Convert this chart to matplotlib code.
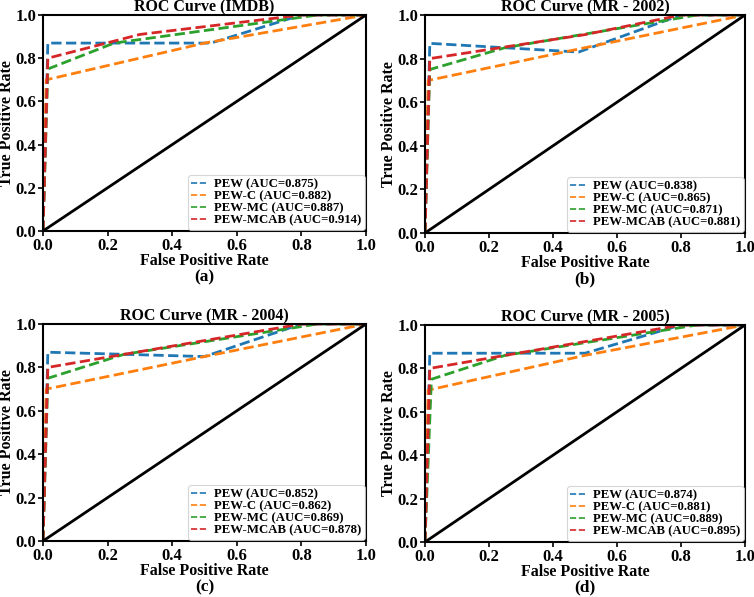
import matplotlib

matplotlib.use("Agg")
import matplotlib.pyplot as plt

# ROC points, per dataset and model
TITLES = ["ROC Curve (IMDB)", "ROC Curve (MR - 2002)",
          "ROC Curve (MR - 2004)", "ROC Curve (MR - 2005)"]
CAPTIONS = ["(a)", "(b)", "(c)", "(d)"]
MODELS = ["PEW", "PEW-C", "PEW-MC", "PEW-MCAB"]
COLORS = ["#1f77b4", "#ff7f0e", "#2ca02c", "#d62728"]

AUC = [
    [0.875, 0.882, 0.887, 0.914],
    [0.838, 0.865, 0.871, 0.881],
    [0.852, 0.862, 0.869, 0.878],
    [0.874, 0.881, 0.889, 0.895],
]

FPR = [
    [[0, 0.015, 0.52, 0.80, 1], [0, 0.01, 0.50, 1], [0, 0.015, 0.22, 0.85, 1], [0, 0.015, 0.30, 0.80, 1]],
    [[0, 0.015, 0.48, 0.80, 1], [0, 0.01, 0.50, 1], [0, 0.015, 0.25, 0.85, 1], [0, 0.015, 0.50, 0.80, 1]],
    [[0, 0.015, 0.50, 0.80, 1], [0, 0.01, 0.50, 1], [0, 0.015, 0.25, 0.85, 1], [0, 0.015, 0.25, 0.80, 1]],
    [[0, 0.015, 0.50, 0.80, 1], [0, 0.01, 0.50, 1], [0, 0.02, 0.25, 0.85, 1], [0, 0.015, 0.25, 0.80, 1]],
]
TPR = [
    [[0, 0.87, 0.87, 1.0, 1], [0, 0.70, 0.87, 1], [0, 0.75, 0.87, 1.0, 1], [0, 0.80, 0.91, 1.0, 1]],
    [[0, 0.87, 0.83, 1.0, 1], [0, 0.70, 0.85, 1], [0, 0.75, 0.85, 1.0, 1], [0, 0.80, 0.91, 1.0, 1]],
    [[0, 0.87, 0.85, 1.0, 1], [0, 0.70, 0.85, 1], [0, 0.75, 0.86, 1.0, 1], [0, 0.80, 0.86, 1.0, 1]],
    [[0, 0.87, 0.87, 1.0, 1], [0, 0.70, 0.86, 1], [0, 0.75, 0.86, 1.0, 1], [0, 0.80, 0.86, 1.0, 1]],
]

W, H = 754, 597
# axes boxes in pixels: left, top, right, bottom
BOXES = [(43, 15, 366, 231), (425, 15, 745, 233),
         (43, 324, 366, 541), (425, 325, 745, 542)]
CAP_Y = [277, 279, 587, 587]


def main():
    plt.rcParams.update({"font.family": "Liberation Serif", "font.weight": "bold",
                         "font.size": 11})
    fig = plt.figure(figsize=(W / 100, H / 100), dpi=100)

    for i in range(4):
        l, t, r, b = BOXES[i]
        ax = fig.add_axes([l / W, 1 - b / H, (r - l) / W, (b - t) / H])
        for j, m in enumerate(MODELS):
            ax.plot(FPR[i][j], TPR[i][j], linestyle="--", color=COLORS[j], lw=2,
                    label=f"{m} (AUC={AUC[i][j]:.3f})")
        ax.plot([0, 1], [0, 1], color="black", lw=2)
        ax.set_xlim(0, 1); ax.set_ylim(0, 1)
        ax.set_xticks([0, 0.2, 0.4, 0.6, 0.8, 1.0])
        ax.set_yticks([0, 0.2, 0.4, 0.6, 0.8, 1.0])
        ax.tick_params(labelsize=12, length=3.5, width=1.2, pad=1.5)
        for lab in ax.get_xticklabels() + ax.get_yticklabels():
            lab.set_fontweight("bold")
        for sp in ax.spines.values():
            sp.set_linewidth(1.5)
        ax.set_title(TITLES[i], fontsize=11.5, fontweight="bold", pad=1)
        ax.set_xlabel("False Positive Rate", fontsize=11.5, fontweight="bold", labelpad=-1)
        ax.set_ylabel("True Positive Rate", fontsize=11.5, fontweight="bold", labelpad=0)
        leg = ax.legend(loc="lower right", fontsize=9.2, handlelength=1.3,
                        borderpad=0.25, labelspacing=0.0, handletextpad=0.5,
                        borderaxespad=0.1, fancybox=True)
        leg.get_frame().set_linewidth(0.8)
        for ln in leg.get_lines():
            ln.set_linewidth(1.2)
        fig.text((l + r) / 2 / W, 1 - CAP_Y[i] / H, CAPTIONS[i], ha="center",
                 va="center", fontsize=12.5, fontweight="bold")

    fig.savefig("out.png", dpi=100, facecolor="white")
    plt.close(fig)


if __name__ == "__main__":
    main()
